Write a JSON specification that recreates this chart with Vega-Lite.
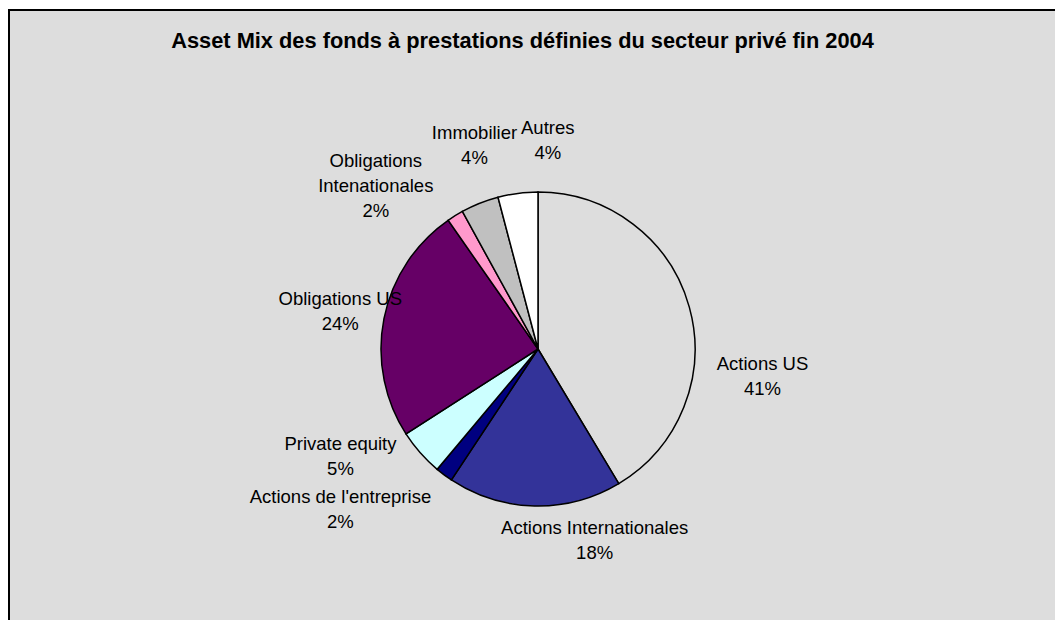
{
  "$schema": "https://vega.github.io/schema/vega-lite/v6.json",
  "autosize": {"type": "none"},
  "width": 1058,
  "height": 678,
  "padding": {"left": 9, "top": 10, "right": -12, "bottom": -68},
  "background": "#FFFFFF",
  "view": {"fill": "#DDDDDD", "stroke": "#000000", "strokeWidth": 2},
  "config": {
    "text": {"font": "Liberation Sans", "fontSize": 18.5, "lineBreak": "\n", "lineHeight": 25, "align": "center", "baseline": "middle", "color": "#000000"}
  },
  "title": {
    "text": "Asset Mix des fonds à prestations définies du secteur privé fin 2004",
    "font": "Liberation Sans",
    "fontSize": 21.8,
    "fontWeight": "bold",
    "color": "#000000",
    "anchor": "middle",
    "frame": "group",
    "baseline": "alphabetic",
    "offset": 0,
    "dx": -15.5,
    "dy": 60
  },
  "data": {
    "values": [
      {"rank": 1, "category": "Actions US", "label": "Actions US", "value": 41.4},
      {"rank": 2, "category": "Actions Internationales", "label": "Actions Internationales", "value": 17.9},
      {"rank": 3, "category": "Actions de l'entreprise", "label": "Actions de l'entreprise", "value": 1.8},
      {"rank": 4, "category": "Private equity", "label": "Private equity", "value": 4.8},
      {"rank": 5, "category": "Obligations US", "label": "Obligations US", "value": 24.4},
      {"rank": 6, "category": "Obligations Intenationales", "label": "Obligations\nIntenationales", "value": 1.7},
      {"rank": 7, "category": "Immobilier", "label": "Immobilier", "value": 3.9},
      {"rank": 8, "category": "Autres", "label": "Autres", "value": 4.1}
    ]
  },
  "transform": [
    {"stack": "value", "groupby": [], "sort": [{"field": "rank", "order": "ascending"}], "as": ["v0", "v1"]},
    {"calculate": "(datum.v0 + datum.v1) / 2", "as": "mid"},
    {"calculate": "datum.label + '\\n' + format(datum.value / 100, '.0%')", "as": "text"}
  ],
  "layer": [
    {
      "mark": {"type": "arc", "radius": 157, "stroke": "#000000", "strokeWidth": 1.5},
      "encoding": {
        "theta": {"field": "v0", "type": "quantitative", "scale": {"domain": [0, 100]}},
        "theta2": {"field": "v1"},
        "color": {
          "field": "category",
          "type": "nominal",
          "scale": {
            "domain": ["Actions US", "Actions Internationales", "Actions de l'entreprise", "Private equity", "Obligations US", "Obligations Intenationales", "Immobilier", "Autres"],
            "range": ["#DDDDDD", "#333399", "#000080", "#CCFFFF", "#660066", "#FF99CC", "#C0C0C0", "#FFFFFF"]
          },
          "legend": null
        }
      }
    },
    {
      "transform": [{"filter": {"field": "category", "equal": "Actions US"}}],
      "mark": {"type": "text", "radius": 225, "thetaOffset": 0.335},
      "encoding": {"theta": {"field": "mid", "type": "quantitative"}, "text": {"field": "text"}}
    },
    {
      "transform": [{"filter": {"field": "category", "equal": "Actions Internationales"}}],
      "mark": {"type": "text", "radius": 188, "thetaOffset": -0.328},
      "encoding": {"theta": {"field": "mid", "type": "quantitative"}, "text": {"field": "text"}}
    },
    {
      "transform": [{"filter": {"field": "category", "equal": "Actions de l'entreprise"}}],
      "mark": {"type": "text", "radius": 247, "thetaOffset": 0.286},
      "encoding": {"theta": {"field": "mid", "type": "quantitative"}, "text": {"field": "text"}}
    },
    {
      "transform": [{"filter": {"field": "category", "equal": "Private equity"}}],
      "mark": {"type": "text", "radius": 219, "thetaOffset": 0.276},
      "encoding": {"theta": {"field": "mid", "type": "quantitative"}, "text": {"field": "text"}}
    },
    {
      "transform": [{"filter": {"field": "category", "equal": "Obligations US"}}],
      "mark": {"type": "text", "radius": 204, "thetaOffset": 0.054},
      "encoding": {"theta": {"field": "mid", "type": "quantitative"}, "text": {"field": "text"}}
    },
    {
      "transform": [{"filter": {"field": "category", "equal": "Obligations Intenationales"}}],
      "mark": {"type": "text", "radius": 248, "thetaOffset": -0.157},
      "encoding": {"theta": {"field": "mid", "type": "quantitative"}, "text": {"field": "text"}}
    },
    {
      "transform": [{"filter": {"field": "category", "equal": "Immobilier"}}],
      "mark": {"type": "text", "radius": 225, "thetaOffset": 0.094},
      "encoding": {"theta": {"field": "mid", "type": "quantitative"}, "text": {"field": "text"}}
    },
    {
      "transform": [{"filter": {"field": "category", "equal": "Autres"}}],
      "mark": {"type": "text", "radius": 221, "thetaOffset": 0.173},
      "encoding": {"theta": {"field": "mid", "type": "quantitative"}, "text": {"field": "text"}}
    }
  ]
}
